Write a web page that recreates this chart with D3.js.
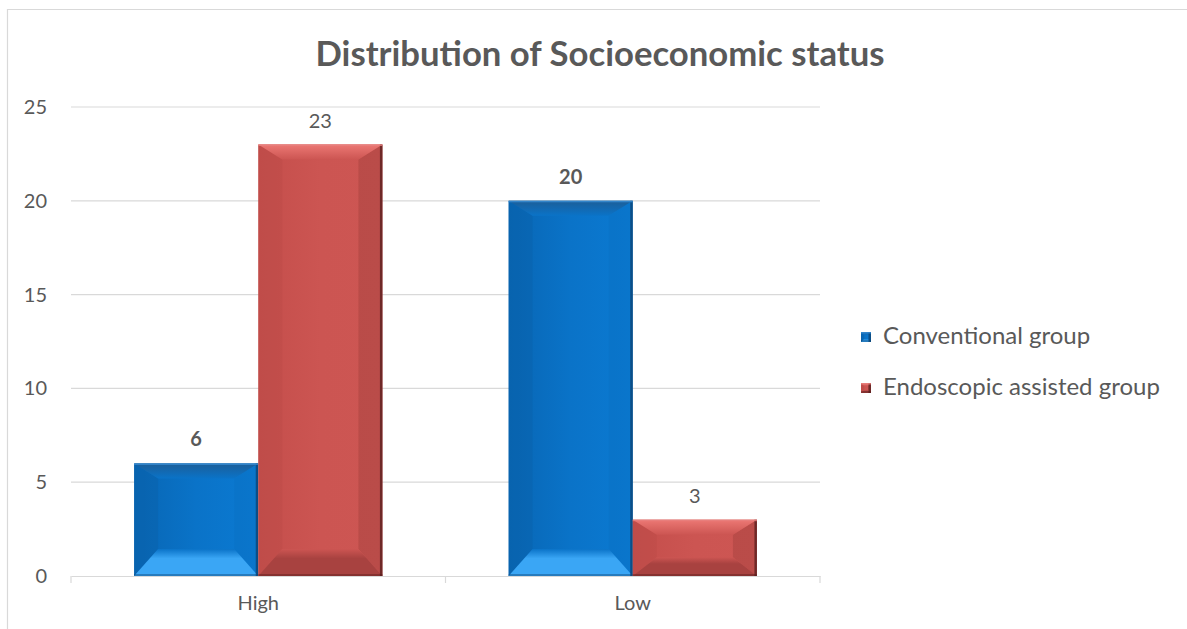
<!DOCTYPE html>
<html>
<head>
<meta charset="utf-8">
<script src="https://cdn.jsdelivr.net/npm/d3@7"></script>
<style>
  html, body { margin: 0; padding: 0; background: #fff; }
  svg { display: block; }
  text { font-family: Lato, "Open Sans", "Liberation Sans", sans-serif; fill: #595959; }
</style>
</head>
<body>
<svg id="chart" width="1187" height="629"></svg>
<script>
// Socioeconomic status by study group
const categories = ["High", "Low"];
const seriesNames = ["Conventional group", "Endoscopic assisted group"];
const conventional = [6, 20];
const endoscopic = [23, 3];
const yTicks = [0, 5, 10, 15, 20, 25];
const boldLabels = [true, false];   // value labels: first series bold

const W = 1187, H = 629;
const svg = d3.select("#chart");
const margin = { left: 71, right: 367, top: 107, bottom: 53 };
const FONT = "Lato, 'Open Sans', sans-serif";

// outer frame
svg.append("path")
  .attr("d", `M7.5,${H} V9.5 H${W}`)
  .attr("fill", "none").attr("stroke", "#d9d9d9").attr("stroke-width", 1.2);

const x0 = d3.scaleBand().domain(categories)
  .range([margin.left, W - margin.right]).paddingInner(0).paddingOuter(0);
const x1 = d3.scaleBand().domain(seriesNames)
  .range([0, x0.bandwidth()]).paddingOuter(0.508).paddingInner(0);
const y = d3.scaleLinear().domain([0, 25]).range([H - margin.bottom, margin.top]);

// gridlines
svg.append("g").selectAll("line").data(yTicks.filter(t => t > 0)).join("line")
  .attr("x1", margin.left).attr("x2", W - margin.right)
  .attr("y1", d => y(d)).attr("y2", d => y(d))
  .attr("stroke", "#d9d9d9").attr("stroke-width", 1.2);

// y axis labels
const yAxis = svg.append("g")
  .attr("transform", `translate(${margin.left},0)`)
  .call(d3.axisLeft(y).tickValues(yTicks).tickSize(0).tickPadding(24));
yAxis.select(".domain").remove();
yAxis.selectAll("text").style("font-size", "20px").attr("fill", "#595959")
  .style("font-family", FONT);

// x axis
const xAxis = svg.append("g")
  .attr("transform", `translate(0,${y(0)})`)
  .call(d3.axisBottom(x0).tickSize(0).tickPadding(20));
xAxis.select(".domain").attr("stroke", "#d9d9d9").attr("stroke-width", 1.2);
xAxis.selectAll("text").style("font-size", "20px").attr("fill", "#595959")
  .style("font-family", FONT);
// category boundary ticks
const edges = [x0.range()[0], ...categories.map(c => x0(c) + x0.bandwidth())];
svg.append("g").selectAll("line").data(edges).join("line")
  .attr("x1", d => d).attr("x2", d => d)
  .attr("y1", y(0)).attr("y2", y(0) + 7)
  .attr("stroke", "#d9d9d9").attr("stroke-width", 1.2);

// bevel palettes
const palettes = {
  "Conventional group": {
    face: ["#0866b4", "#0a73c8", "#0b7ad2"],
    top: "#1c5e98", bottom: "#3aa6f5", left: "#0a5ca3", right: "#0b6cbd", edge: "#0b3d6a", hi: "#3a8fd6"
  },
  "Endoscopic assisted group": {
    face: ["#c44e4b", "#cc5552", "#cd5653"],
    top: "#ec7874", bottom: "#a84240", left: "#b74845", right: "#8d3432", edge: "#4f1a19", hi: "#e7817e"
  }
};

const defs = svg.append("defs");
Object.entries(palettes).forEach(([name, p], i) => {
  const g = defs.append("linearGradient").attr("id", "face" + i)
    .attr("x1", 0).attr("x2", 1).attr("y1", 0).attr("y2", 0);
  g.append("stop").attr("offset", 0).attr("stop-color", p.face[0]);
  g.append("stop").attr("offset", 0.5).attr("stop-color", p.face[1]);
  g.append("stop").attr("offset", 1).attr("stop-color", p.face[2]);
  const gt = defs.append("linearGradient").attr("id", "top" + i)
    .attr("x1", 0).attr("x2", 0).attr("y1", 0).attr("y2", 1);
  gt.append("stop").attr("offset", 0).attr("stop-color", p.top);
  gt.append("stop").attr("offset", 1).attr("stop-color", p.face[1]);
  const gb = defs.append("linearGradient").attr("id", "bot" + i)
    .attr("x1", 0).attr("x2", 0).attr("y1", 0).attr("y2", 1);
  gb.append("stop").attr("offset", 0).attr("stop-color", p.face[1]);
  gb.append("stop").attr("offset", 0.35).attr("stop-color", p.bottom);
  gb.append("stop").attr("offset", 1).attr("stop-color", p.bottom);
});

const rows = [];
categories.forEach((c, ci) => {
  [conventional, endoscopic].forEach((arr, si) => {
    rows.push({ cat: c, series: seriesNames[si], si, value: arr[ci], bold: boldLabels[si] });
  });
});

function drawBevel(g, x, yTop, w, h, si, depthTop, depthBot, depthSide) {
  const p = palettes[seriesNames[si]];
  const yB = yTop + h;
  g.append("rect").attr("x", x).attr("y", yTop).attr("width", w).attr("height", h)
    .attr("fill", `url(#face${si})`);
  const dt = Math.min(depthTop, h / 3), db = Math.min(depthBot, h / 3), ds = depthSide;
  // left side
  g.append("path").attr("d", `M${x},${yTop} L${x + ds},${yTop + dt} L${x + ds},${yB - db} L${x},${yB} Z`)
    .attr("fill", p.left).attr("opacity", 0.3);
  // right side
  g.append("path").attr("d", `M${x + w},${yTop} L${x + w - ds},${yTop + dt} L${x + w - ds},${yB - db} L${x + w},${yB} Z`)
    .attr("fill", p.right).attr("opacity", 0.3);
  // top
  g.append("path").attr("d", `M${x},${yTop} L${x + w},${yTop} L${x + w - ds},${yTop + dt} L${x + ds},${yTop + dt} Z`)
    .attr("fill", `url(#top${si})`);
  // bottom
  g.append("path").attr("d", `M${x},${yB} L${x + w},${yB} L${x + w - ds},${yB - db} L${x + ds},${yB - db} Z`)
    .attr("fill", `url(#bot${si})`);
  // thin edges
  g.append("rect").attr("x", x + w - 2.5).attr("y", yTop).attr("width", 2.5).attr("height", h)
    .attr("fill", p.edge).attr("opacity", 0.7);
  g.append("rect").attr("x", x).attr("y", yB - 2).attr("width", w).attr("height", 2)
    .attr("fill", p.edge).attr("opacity", 0.4);
  g.append("rect").attr("x", x).attr("y", yTop).attr("width", w).attr("height", 1.5)
    .attr("fill", p.hi).attr("opacity", 0.8);
}

const barsG = svg.append("g");
rows.forEach(r => {
  const bx = x0(r.cat) + x1(r.series);
  const bw = x1.bandwidth();
  const g = barsG.append("g");
  drawBevel(g, bx, y(r.value), bw, y(0) - y(r.value), r.si, 15, 27, 24);
  svg.append("text")
    .attr("x", bx + bw / 2).attr("y", y(r.value) - 17)
    .attr("text-anchor", "middle")
    .style("font-size", "20px")
    .style("font-weight", r.bold ? "700" : "400")
    .attr("fill", "#404040")
    .text(r.value);
});

// title
svg.append("text")
  .attr("x", 600).attr("y", 66)
  .attr("text-anchor", "middle")
  .style("font-size", "34.7px").style("font-weight", "700")
  .text("Distribution of Socioeconomic status");

// legend
const legend = svg.append("g");
seriesNames.forEach((s, i) => {
  const ly = 337 + i * 51;
  const g = legend.append("g");
  drawBevel(g, 861, ly - 5, 10, 10, i, 3, 3, 3);
  g.append("text").attr("x", 883).attr("y", ly + 7)
    .style("font-size", "24px").text(s);
});
</script>
</body>
</html>
